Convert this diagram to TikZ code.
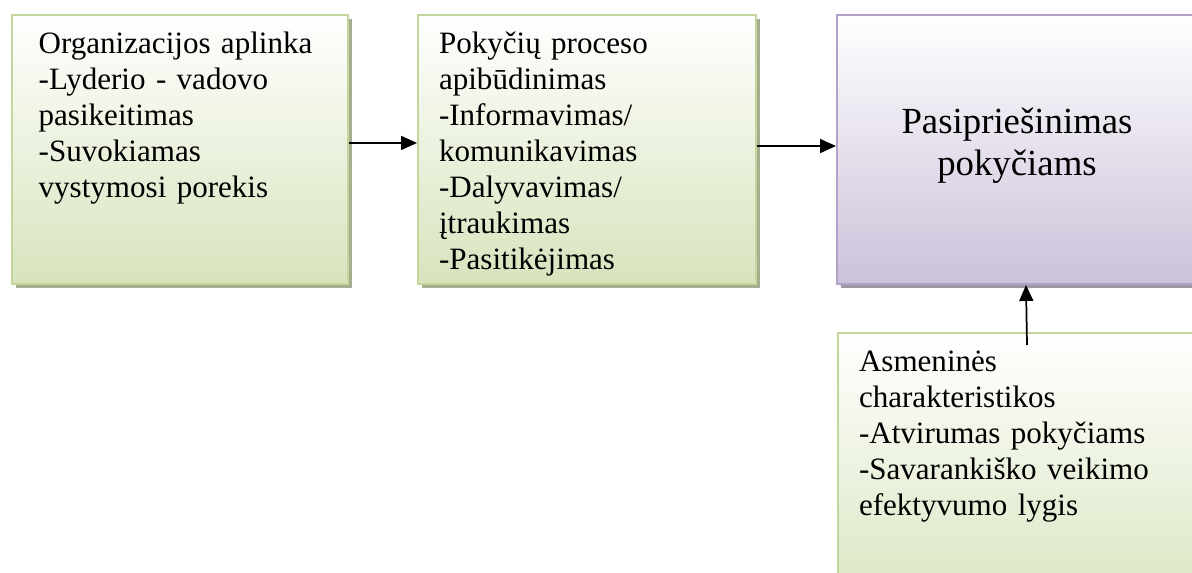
\documentclass[tikz,border=0pt]{standalone}
\usepackage{fontspec}
\setmainfont{Liberation Serif}
\usepackage{tikz}
\usetikzlibrary{arrows.meta,shadows}

\definecolor{olivebg}{HTML}{D7E4BD}
\definecolor{oliveline}{HTML}{C3D69B}
\definecolor{oliveshade}{HTML}{A6AE8F}
\definecolor{lilacbg}{HTML}{CCC1DA}
\definecolor{lilacline}{HTML}{B3A2C7}
\definecolor{lilacshade}{HTML}{9E97A8}

\tikzset{
  factorbox/.style={draw=oliveline, line width=1.5pt, top color=white, bottom color=olivebg,
    drop shadow={shadow xshift=3pt, shadow yshift=-3pt, fill=oliveshade, opacity=1},
    anchor=north west, align=left, inner ysep=0pt, inner xsep=15.75pt,
    text height=29.25pt, font=\fontsize{23.3}{27}\selectfont},
  resultbox/.style={draw=lilacline, line width=1.5pt, top color=white, bottom color=lilacbg,
    drop shadow={shadow xshift=3pt, shadow yshift=-3pt, fill=lilacshade, opacity=1},
    anchor=north west, align=center, inner sep=0pt,
    font=\fontsize{27.6}{31.6}\selectfont},
  arr/.style={line width=1.3pt, -{Triangle[length=12pt,width=10.5pt]}}
}

\begin{document}
\begin{tikzpicture}[x=0.75pt, y=-0.75pt]
  \useasboundingbox (0,0) rectangle (1192,573);

  % left to right: the two factor groups
  \node[factorbox, inner xsep=20pt, text width=212pt, text depth=172.5pt] (org) at (11,14)
    {Organizacijos aplinka\\-Lyderio - vadovo\\pasikeitimas\\-Suvokiamas\\vystymosi porekis};
  \node[factorbox, text width=222pt, text depth=172.5pt] (proc) at (417,14)
    {Poky\v{c}i\k{u} proceso\\apib\={u}dinimas\\-Informavimas/\\komunikavimas\\-Dalyvavimas/\\\k{i}traukimas\\-Pasitik\.{e}jimas};

  % outcome
  \node[resultbox, minimum width=270pt, text height=120.75pt, text depth=81pt] (resist) at (836,14)
    {Pasiprie\v{s}inimas\\poky\v{c}iams};

  % personal traits, below
  \node[factorbox, text width=238.5pt, text depth=187.5pt] (pers) at (837,332)
    {Asmenin\.{e}s\\charakteristikos\\-Atvirumas poky\v{c}iams\\-Savaranki\v{s}ko veikimo\\efektyvumo lygis};

  \draw[arr] ([yshift=4.9pt]org.east) -- ([yshift=4.9pt]proc.west);
  \draw[arr] ([yshift=2.6pt]proc.east) -- ([yshift=2.6pt]resist.west);
  \draw[arr] ([xshift=6.75pt,yshift=-9.75pt]pers.north) -- ([xshift=6.75pt]resist.south);
\end{tikzpicture}
\end{document}
